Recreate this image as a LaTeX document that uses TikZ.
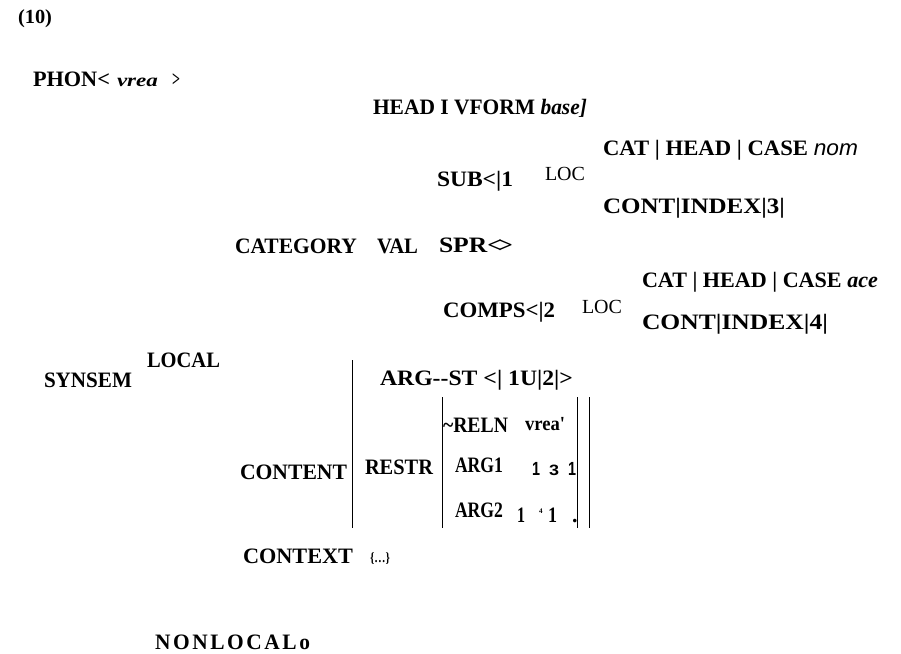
\documentclass[tikz,border=0pt]{standalone}
\usepackage{graphicx}
\usepackage{fontspec}
\setmainfont{Liberation Serif}
\newfontfamily\sansf{Liberation Sans}
\newfontfamily\spcf[LetterSpace=12]{Liberation Serif}
\newcommand{\fw}[2]{\resizebox{#1pt}{\height}{#2}}
\tikzset{
  t/.style={anchor=base west, inner sep=0pt, outer sep=0pt, font=\bfseries\fontsize{22}{26}\selectfont},
  tsm/.style={t, font=\bfseries\fontsize{20}{24}\selectfont},
  treg/.style={t, font=\mdseries\fontsize{20}{24}\selectfont},
  tsans/.style={t, font=\sansf\bfseries\fontsize{#1}{24}\selectfont},
  bar/.style={draw=black, line width=0.9pt}
}
\begin{document}
\begin{tikzpicture}[x=1pt,y=-1pt]
\useasboundingbox (0,0) rectangle (901,653);
% header
\node[tsm] (num) at (18,23) {\fw{34}{(10)}};
\node[t] (phon) at (33,86) {\fw{77}{PHON<}};
\node[t, font=\bfseries\itshape\fontsize{18}{20}\selectfont] (phonv) at (117,86) {\fw{41}{vrea}};
\node[t] (phonr) at (172,86) {\fw{8}{>}};
% head
\node[t] (head) at (373,114) {\fw{214}{HEAD I VFORM \textit{base]}}};
% subj
\node[t] (cat1) at (603,155) {\fw{255}{CAT | HEAD | CASE {\sansf\mdseries\itshape nom}}};
\node[t] (sub) at (437,186) {\fw{76}{SUB<|1}};
\node[treg] (loc1) at (545,180) {\fw{40}{LOC}};
\node[t] (cont3) at (603,213) {\fw{182}{CONT|INDEX|3|}};
% category
\node[t] (cat) at (235,253) {\fw{122}{CATEGORY}};
\node[t] (val) at (377,253) {\fw{41}{VAL}};
\node[t] (spr) at (439,252) {\fw{74}{SPR<\kern-3pt>}};
% comps
\node[t] (cat2) at (642,287) {\fw{236}{CAT | HEAD | CASE \textit{ace}}};
\node[t] (comps) at (443,317) {\fw{112}{COMPS<|2}};
\node[treg] (loc2) at (582,313) {\fw{40}{LOC}};
\node[t] (cont4) at (642,329) {\fw{186}{CONT|INDEX|4|}};
% synsem
\node[t] (local) at (147,367) {\fw{73}{LOCAL}};
\node[t] (synsem) at (44,387) {\fw{88}{SYNSEM}};
% content
\node[t] (argst) at (380,385) {\fw{193}{ARG-{}-ST <| 1U|2|>}};
\node[t] (reln) at (443,432) {\fw{65}{\textasciitilde RELN}};
\node[tsm] (vrea2) at (525,430) {\fw{40}{vrea\textquotesingle}};
\node[t] (content) at (240,479) {\fw{107}{CONTENT}};
\node[t] (restr) at (365,474) {\fw{68}{RESTR}};
\node[t] (arg1) at (455,472) {\fw{48}{ARG1}};
\node[tsans=19] (a1i) at (532,475) {\fw{8}{1}};
\node[tsans=15] (a1j) at (549,475) {\fw{10}{3}};
\node[tsans=19] (a1k) at (568,475) {\fw{8}{1}};
\node[t] (arg2) at (455,517) {\fw{48}{ARG2}};
\node[t] (a2i) at (517,522) {\fw{8}{1}};
\node[t, font=\bfseries\fontsize{7}{8}\selectfont] (a2j) at (539,513) {4};
\node[t] (a2k) at (548,522) {\fw{9}{1}};
\node[t] (a2l) at (572,522) {.};
% context
\node[t] (context) at (243,563) {\fw{110}{CONTEXT}};
\node[t, font=\bfseries\fontsize{14}{16}\selectfont] (ctxv) at (370,562) {\fw{20}{\{\ldots\}}};
% nonlocal
\node[t, font=\bfseries\spcf\fontsize{22}{26}\selectfont] (nonlocal) at (155,649) {\fw{155}{NONLOCALo}};
% bracket lines
\coordinate (l1t) at (352,360); \coordinate (l1b) at (352,528);
\coordinate (l2t) at (442,397); \coordinate (l2b) at (442,528);
\coordinate (l3t) at (577,397); \coordinate (l3b) at (577,528);
\coordinate (l4t) at (589,397); \coordinate (l4b) at (589,528);
\draw[bar] (l1t) -- (l1b);
\draw[bar] (l2t) -- (l2b);
\draw[bar] (l3t) -- (l3b);
\draw[bar] (l4t) -- (l4b);
\end{tikzpicture}
\end{document}
